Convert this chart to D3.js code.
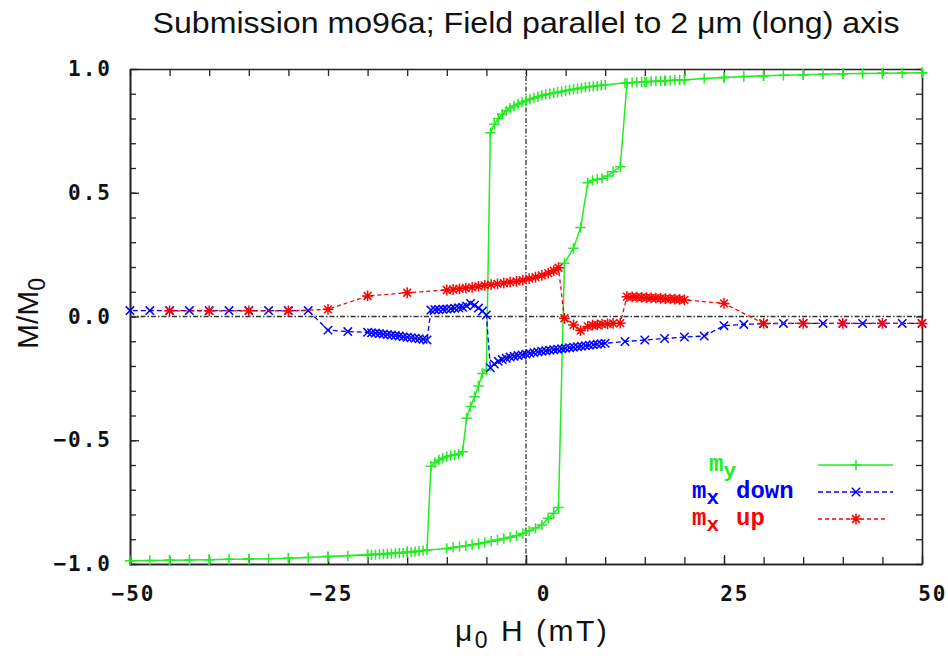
<!DOCTYPE html>
<html>
<head>
<meta charset="utf-8">
<script src="https://cdn.jsdelivr.net/npm/d3@7"></script>
<style>
    html, body { margin: 0; padding: 0; background: #fff; }
    svg { display: block; }
    .tick-label { font-family: "DejaVu Sans Mono", monospace; font-weight: bold; font-size: 21px; letter-spacing: 2px; fill: #111; }
</style>
</head>
<body>
<svg id="chart" width="948" height="656"></svg>
<script>
/* global d3: true */

// descending branch (field swept from +50 mT down to -50 mT)
var fieldDown = [50, 47.5, 45, 42.5, 40, 37.5, 35, 32.5, 30, 27.5, 25, 22.5, 20, 17.5, 15, 12.5,
    10, 9.5, 9, 8.5, 8, 7.5, 7, 6.5, 6, 5.5, 5, 4.5, 4, 3.5, 3, 2.5, 2, 1.5, 1, 0.5,
    0, -0.5, -1, -1.5, -2, -2.5, -3, -3.5, -4, -4.5,
    -5, -5.5, -6, -6.5, -7, -7.5, -8, -8.5, -9, -9.5, -10, -10.5, -11, -11.5, -12,
    -12.5, -13, -13.5, -14, -14.5, -15, -15.5, -16, -16.5, -17, -17.5, -18, -18.5, -19, -19.5, -20,
    -22.5, -25, -27.5, -30, -32.5, -35, -37.5, -40, -42.5, -45, -47.5, -50];
var myDown = [0.985, 0.984, 0.983, 0.982, 0.981, 0.979, 0.977, 0.975, 0.973, 0.970, 0.966, 0.962, 0.957, 0.953, 0.948, 0.943,
    0.936, 0.934, 0.932, 0.930, 0.928, 0.926, 0.923, 0.920, 0.918, 0.915, 0.912, 0.909, 0.906, 0.903, 0.900, 0.897, 0.893, 0.888, 0.883, 0.878,
    0.872, 0.866, 0.859, 0.851, 0.842, 0.831, 0.817, 0.800, 0.777, 0.742,
    -0.216, -0.230, -0.281, -0.324, -0.364, -0.411, -0.546, -0.556, -0.560, -0.562, -0.566, -0.572, -0.580, -0.590, -0.605,
    -0.943, -0.946, -0.948, -0.950, -0.952, -0.953, -0.955, -0.956, -0.957, -0.958, -0.959, -0.960, -0.961, -0.962, -0.963, -0.964,
    -0.967, -0.970, -0.974, -0.977, -0.979, -0.980, -0.981, -0.983, -0.984, -0.985, -0.986, -0.987];
var mxDown = [-0.028, -0.028, -0.028, -0.028, -0.028, -0.028, -0.028, -0.028, -0.029, -0.032, -0.037, -0.079, -0.083, -0.089, -0.095, -0.101,
    -0.108, -0.110, -0.112, -0.114, -0.116, -0.118, -0.120, -0.122, -0.124, -0.126, -0.128, -0.130, -0.132, -0.134, -0.136, -0.138, -0.140, -0.143, -0.146, -0.149,
    -0.152, -0.155, -0.158, -0.161, -0.164, -0.169, -0.174, -0.181, -0.192, -0.207,
    0.006, 0.022, 0.034, 0.046, 0.053, 0.043, 0.037, 0.035, 0.033, 0.031, 0.030, 0.029, 0.028, 0.027, 0.026,
    -0.095, -0.092, -0.090, -0.088, -0.086, -0.084, -0.082, -0.079, -0.077, -0.075, -0.073, -0.071, -0.069, -0.067, -0.066, -0.064,
    -0.061, -0.055, 0.024, 0.024, 0.024, 0.024, 0.024, 0.024, 0.024, 0.024, 0.024, 0.024];

// ascending branch (field swept from -50 mT back up to +50 mT)
var fieldUp = [-45, -40, -35, -30, -25, -20, -15, -10,
    -9.2, -8.4, -7.6, -6.8, -6, -5.2, -4.4, -3.6, -2.8, -2, -1.2, -0.4, 0.4, 1.2, 2, 2.8, 3.5, 4.1,
    4.85, 6, 6.9, 7.8, 8.4, 9, 9.6, 10.3, 11, 11.9,
    12.75, 13.4, 14, 14.6, 15.2, 15.8, 16.4, 17, 17.6, 18.2, 18.8, 19.4, 20,
    25, 30, 35, 40, 45, 50];
var myUp = [-0.985, -0.983, -0.980, -0.977, -0.970, -0.962, -0.950, -0.937,
    -0.933, -0.930, -0.926, -0.922, -0.918, -0.913, -0.908, -0.903, -0.897, -0.892, -0.886, -0.877, -0.866, -0.855, -0.842, -0.815, -0.795, -0.772,
    0.215, 0.276, 0.360, 0.540, 0.550, 0.555, 0.558, 0.568, 0.585, 0.605,
    0.942, 0.945, 0.946, 0.947, 0.948, 0.950, 0.951, 0.952, 0.953, 0.954, 0.955, 0.956, 0.957,
    0.966, 0.973, 0.977, 0.981, 0.983, 0.985];
var mxUp = [0.023, 0.023, 0.023, 0.023, 0.029, 0.083, 0.096, 0.107,
    0.109, 0.112, 0.115, 0.118, 0.122, 0.126, 0.129, 0.132, 0.135, 0.139, 0.142, 0.147, 0.153, 0.159, 0.166, 0.175, 0.185, 0.197,
    -0.007, -0.034, -0.057, -0.040, -0.035, -0.034, -0.031, -0.030, -0.028, -0.027,
    0.080, 0.079, 0.078, 0.077, 0.076, 0.075, 0.074, 0.073, 0.072, 0.071, 0.070, 0.069, 0.067,
    0.053, -0.028, -0.028, -0.028, -0.028, -0.028];

var xTickLabels = [-50, -25, 0, 25, 50];
var yTickLabels = [-1.0, -0.5, 0.0, 0.5, 1.0];

var svg = d3.select('#chart');
var plot = {left: 130, right: 922, top: 69, bottom: 564};

var x = d3.scaleLinear().domain([-50, 50]).range([plot.left, plot.right]);
var y = d3.scaleLinear().domain([-1, 1]).range([plot.bottom, plot.top]);

function plusPath(s) {
    return 'M' + (-s) + ',0H' + s + 'M0,' + (-s) + 'V' + s;
}
function timesPath(s) {
    return 'M' + (-s) + ',' + (-s) + 'L' + s + ',' + s +
        'M' + (-s) + ',' + s + 'L' + s + ',' + (-s);
}
function starPath(s) {
    return plusPath(s) + timesPath(s * 0.72);
}

// frame + ticks
function styleAxis(g) {
    g.select('.domain').attr('stroke', '#222').attr('stroke-width', 1.6);
    g.selectAll('.tick line').attr('stroke', '#222').attr('stroke-width', 1.3);
}

var minorX = d3.range(-50, 51, 5);
var minorY = d3.range(-10, 11).map(function(d) { return d / 10; });

svg.append('g')
    .attr('transform', 'translate(0,' + plot.bottom + ')')
    .call(d3.axisBottom(x).tickValues(minorX).tickSize(-7).tickSizeOuter(0).tickFormat(''))
    .call(styleAxis);
svg.append('g')
    .attr('transform', 'translate(0,' + plot.top + ')')
    .call(d3.axisTop(x).tickValues(minorX).tickSize(-7).tickSizeOuter(0).tickFormat(''))
    .call(styleAxis);
svg.append('g')
    .attr('transform', 'translate(' + plot.left + ',0)')
    .call(d3.axisLeft(y).tickValues(minorY).tickSize(-6).tickSizeOuter(0).tickFormat(''))
    .call(styleAxis);
svg.append('g')
    .attr('transform', 'translate(' + plot.right + ',0)')
    .call(d3.axisRight(y).tickValues(minorY).tickSize(-6).tickSizeOuter(0).tickFormat(''))
    .call(styleAxis);

// labelled ticks
var xLab = svg.append('g')
    .attr('transform', 'translate(0,' + plot.bottom + ')')
    .call(d3.axisBottom(x).tickValues(xTickLabels).tickSize(-9).tickSizeOuter(0).tickPadding(22)
        .tickFormat(function(d) { return d < 0 ? '\u2212' + Math.abs(d) : String(d); }))
    .call(styleAxis);
xLab.selectAll('.tick text')
    .attr('class', 'tick-label')
    .attr('text-anchor', 'end')
    .attr('dx', 25);

var yLab = svg.append('g')
    .attr('transform', 'translate(' + plot.left + ',0)')
    .call(d3.axisLeft(y).tickValues(yTickLabels).tickSize(-9).tickSizeOuter(0).tickPadding(18)
        .tickFormat(function(d) { return (d < 0 ? '\u2212' : '') + Math.abs(d).toFixed(1); }))
    .call(styleAxis);
yLab.selectAll('.tick text').attr('class', 'tick-label');

// zero lines
svg.append('line')
    .attr('x1', x(-50)).attr('x2', x(50))
    .attr('y1', y(0)).attr('y2', y(0))
    .attr('stroke', '#333').attr('stroke-width', 1.3)
    .attr('stroke-dasharray', '5,2,1.5,2');
svg.append('line')
    .attr('x1', x(0)).attr('x2', x(0))
    .attr('y1', y(-1)).attr('y2', y(1))
    .attr('stroke', '#333').attr('stroke-width', 1.3)
    .attr('stroke-dasharray', '5,2,1.5,2');

// series
var green = '#22ec22', blue = '#0000ff', red = '#ff0000';
var series = [
    {label: 'y', text: '', color: green, dash: null, width: 1.5, symbol: plusPath(5.2),
        points: d3.zip(fieldDown, myDown).concat(d3.zip(fieldUp, myUp))},
    {label: 'x', text: 'down', color: blue, dash: '5,3', width: 1.3, symbol: timesPath(4.2),
        points: d3.zip(fieldDown, mxDown)},
    {label: 'x', text: 'up', color: red, dash: '4,3', width: 1.3, symbol: starPath(5.4),
        points: d3.zip(fieldUp, mxUp)}
];

var line = d3.line()
    .x(function(d) { return x(d[0]); })
    .y(function(d) { return y(d[1]); });

series.forEach(function(s) {
    var g = svg.append('g');
    g.append('path')
        .attr('d', line(s.points))
        .attr('fill', 'none')
        .attr('stroke', s.color)
        .attr('stroke-width', s.width)
        .attr('stroke-dasharray', s.dash);
    g.selectAll('path.pt')
        .data(s.points)
        .enter().append('path')
        .attr('class', 'pt')
        .attr('d', s.symbol)
        .attr('transform', function(d) { return 'translate(' + x(d[0]) + ',' + y(d[1]) + ')'; })
        .attr('fill', 'none')
        .attr('stroke', s.color)
        .attr('stroke-width', 1.5);
});

// legend: label text, then a sample of line and marker
var legendY = [465, 492, 519];
var legendTextX = [709, 692, 692];
var legendFont = '"Liberation Mono", "DejaVu Sans Mono", monospace';
series.forEach(function(s, i) {
    var t = svg.append('text')
        .attr('x', legendTextX[i])
        .attr('y', legendY[i] + 6)
        .attr('fill', s.color)
        .style('font-family', legendFont)
        .style('font-weight', 'bold')
        .style('font-size', '24px');
    t.append('tspan').text('m');
    t.append('tspan').attr('dy', 6).style('font-size', '21px').text(s.label);
    if (s.text) {
        t.append('tspan').attr('dy', -6).attr('dx', 17).text(s.text);
    }
    svg.append('line')
        .attr('x1', 818).attr('x2', i === 2 ? 888 : 893)
        .attr('y1', legendY[i]).attr('y2', legendY[i])
        .attr('stroke', s.color)
        .attr('stroke-width', s.width)
        .attr('stroke-dasharray', s.dash);
    svg.append('path')
        .attr('d', s.symbol)
        .attr('transform', 'translate(856,' + legendY[i] + ')')
        .attr('fill', 'none')
        .attr('stroke', s.color)
        .attr('stroke-width', 1.5);
});

// title and axis labels
var labelFont = '"Liberation Sans Narrow", "Liberation Sans", Arial, sans-serif';
svg.append('text')
    .attr('x', 526).attr('y', 33)
    .attr('text-anchor', 'middle')
    .attr('textLength', 747)
    .attr('lengthAdjust', 'spacingAndGlyphs')
    .style('font-family', labelFont)
    .style('font-size', '29px')
    .attr('fill', '#111')
    .text('Submission mo96a; Field parallel to 2 \u03bcm (long) axis');

var xl = svg.append('text')
    .attr('x', 455).attr('y', 641)
    .style('font-family', labelFont)
    .style('font-size', '30px')
    .style('letter-spacing', '2.5px')
    .attr('fill', '#111');
xl.append('tspan').text('\u03bc');
xl.append('tspan').attr('dy', 7).style('font-size', '23px').text('0');
xl.append('tspan').attr('dy', -7).text(' H (mT)');

var yl = svg.append('text')
    .attr('transform', 'translate(38,349) rotate(-90)')
    .style('font-family', labelFont)
    .style('font-size', '30px')
    .attr('fill', '#111');
yl.append('tspan').text('M/M');
yl.append('tspan').attr('dy', 7).style('font-size', '23px').text('0');
</script>
</body>
</html>
